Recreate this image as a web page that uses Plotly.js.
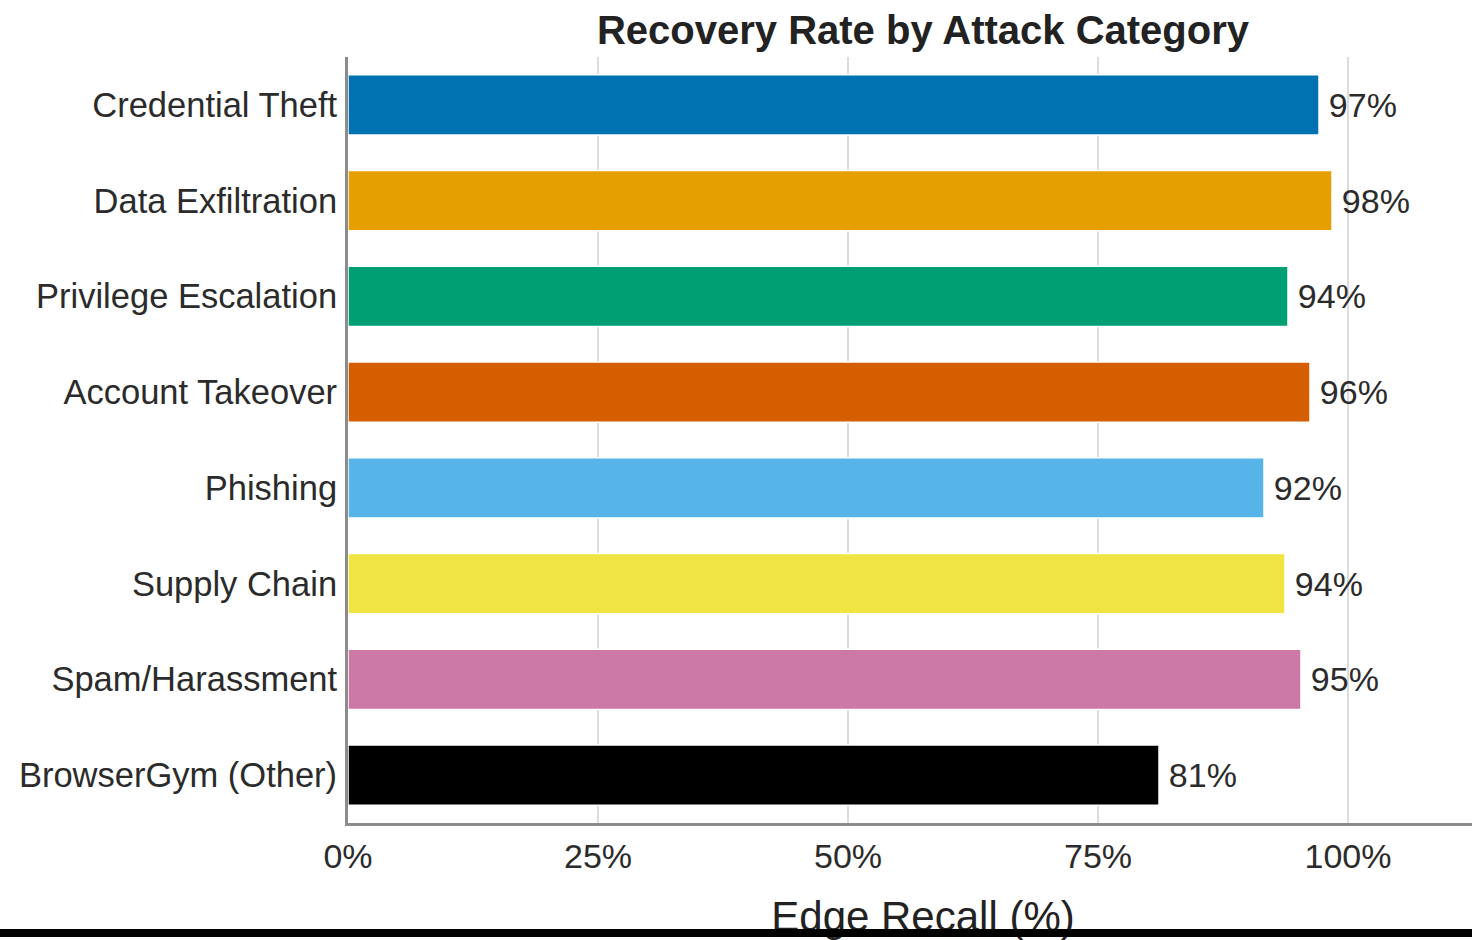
<!DOCTYPE html>
<html>
<head>
<meta charset="utf-8">
<script src="https://cdn.plot.ly/plotly-3.0.1.min.js"></script>
<style>
  html, body { margin: 0; padding: 0; background: #fff; overflow: hidden; }
  #wrap { position: relative; width: 1472px; height: 940px; overflow: hidden; background: #fff; }
  #chart { position: absolute; left: 0; top: 0; width: 1510px; height: 940px; }
  #band { position: absolute; left: 0; top: 929px; width: 1472px; height: 8px; background: #000; }
</style>
</head>
<body>
<div id="wrap">
  <div id="chart"></div>
  <div id="band"></div>
</div>
<script>
const categories = [
  "Credential Theft",
  "Data Exfiltration",
  "Privilege Escalation",
  "Account Takeover",
  "Phishing",
  "Supply Chain",
  "Spam/Harassment",
  "BrowserGym (Other)"
];
const recallPct = [97.1, 98.4, 94.0, 96.2, 91.6, 93.7, 95.3, 81.1];
const barColors = ["#0072B2", "#E69F00", "#009E73", "#D55E00", "#56B4E9", "#F0E442", "#CC79A7", "#000000"];
const xTickVals = [0, 25, 50, 75, 100];
const xTickText = ["0%", "25%", "50%", "75%", "100%"];

const FONT = '"Liberation Sans", Arial, Helvetica, sans-serif';

const trace = {
  type: "bar",
  orientation: "h",
  y: categories,
  x: recallPct,
  marker: { color: barColors, line: { color: "#ffffff", width: 1.5 } },
  texttemplate: "\u2009%{x:.0f}%",
  textposition: "outside",
  cliponaxis: false,
  textfont: { family: FONT, size: 34, color: "#2b2b2b" },
  hoverinfo: "none"
};

const layout = {
  width: 1510,
  height: 940,
  margin: { l: 348, r: 12, t: 57, b: 117 },
  paper_bgcolor: "#ffffff",
  plot_bgcolor: "#ffffff",
  showlegend: false,
  bargap: 0.37,
  title: {
    text: "<b>Recovery Rate by Attack Category</b>",
    font: { family: FONT, size: 40, color: "#222222" },
    x: 0.5, xref: "paper", xanchor: "center",
    y: 1 - 30 / 940, yref: "container", yanchor: "middle"
  },
  xaxis: {
    range: [0, 115],
    tickvals: xTickVals,
    ticktext: xTickText,
    showgrid: true,
    gridcolor: "#dcdcdc",
    gridwidth: 2.5,
    zeroline: false,
    showline: true,
    linecolor: "#8c8c8c",
    linewidth: 3,
    ticks: "outside",
    ticklen: 1,
    tickcolor: "rgba(0,0,0,0)",
    tickfont: { family: FONT, size: 34, color: "#2b2b2b" },
    title: {
      text: "Edge Recall (%)",
      font: { family: FONT, size: 42, color: "#222222" },
      standoff: 28
    }
  },
  yaxis: {
    range: [7.5, -0.5],
    showgrid: false,
    zeroline: false,
    showline: true,
    linecolor: "#8c8c8c",
    linewidth: 3,
    ticks: "outside",
    ticklen: 1,
    tickcolor: "rgba(0,0,0,0)",
    tickfont: { family: FONT, size: 34.5, color: "#2b2b2b" }
  }
};

Plotly.newPlot("chart", [trace], layout, { displayModeBar: false, staticPlot: true });
</script>
</body>
</html>
